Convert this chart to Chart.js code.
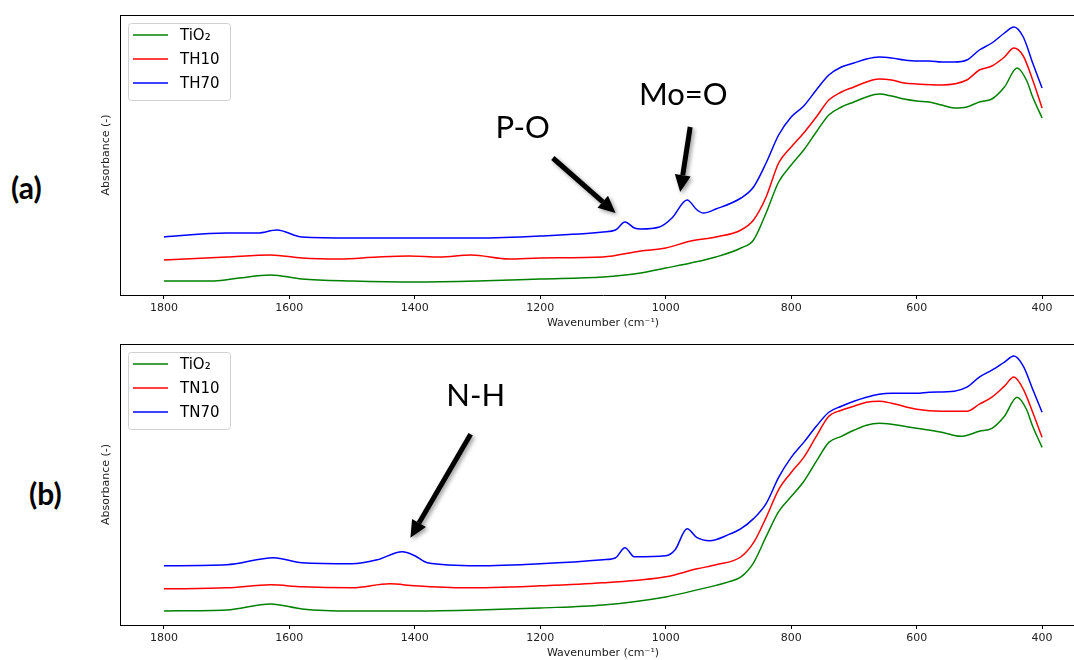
<!DOCTYPE html>
<html>
<head>
<meta charset="utf-8">
<script src="https://cdn.jsdelivr.net/npm/chart.js@4"></script>
<style>
  html, body { margin: 0; padding: 0; background: #fff; overflow: hidden; }
  body { width: 1074px; height: 660px; position: relative; }
  .panel { position: absolute; left: 0; }
  .tag { position: absolute; font-family: Lato, "Open Sans", sans-serif; font-weight: bold; font-size: 30px; color: #000; }
</style>
</head>
<body>
<div class="tag" style="left:11px; top:169px;">(a)</div>
<div class="tag" style="left:29px; top:475px;">(b)</div>
<canvas id="chartA" class="panel" width="1100" height="330" style="top:0"></canvas>
<canvas id="chartB" class="panel" width="1100" height="330" style="top:330px"></canvas>
<script>
// x ticks (wavenumber, cm-1)
const xTicks = [1800, 1600, 1400, 1200, 1000, 800, 600, 400];

// ---- panel (a) ----
const wnA_TiO2 = [1800,1720,1680,1630,1580,1500,1400,1300,1200,1100,1040,1000,960,920,880,860,840,820,800,780,760,740,720,700,680,660,640,620,600,580,560,540,520,500,480,460,440,425,415,400];
const absA_TiO2 = [0.14,0.14,0.17,0.20,0.16,0.14,0.13,0.14,0.16,0.18,0.22,0.27,0.32,0.38,0.47,0.55,0.82,1.13,1.30,1.45,1.63,1.80,1.88,1.93,1.98,2.01,1.99,1.96,1.94,1.93,1.90,1.87,1.88,1.93,1.96,2.08,2.27,2.15,1.98,1.77];

const wnA_TH10 = [1800,1700,1630,1580,1520,1460,1410,1360,1310,1250,1200,1100,1040,1000,960,920,880,860,840,820,800,780,760,740,720,700,680,660,640,620,600,560,520,500,480,460,445,430,415,400];
const absA_TH10 = [0.35,0.38,0.40,0.37,0.36,0.38,0.39,0.38,0.40,0.36,0.37,0.38,0.44,0.47,0.54,0.58,0.65,0.75,0.98,1.32,1.48,1.62,1.78,1.95,2.03,2.08,2.13,2.16,2.15,2.12,2.11,2.10,2.15,2.25,2.29,2.38,2.47,2.39,2.15,1.87];

const wnA_TH70 = [1800,1700,1650,1620,1580,1500,1400,1300,1200,1100,1080,1065,1050,1040,1010,990,966,950,940,920,880,860,840,820,800,780,760,740,720,700,680,660,640,620,600,580,560,540,520,500,480,460,445,430,415,400];
const absA_TH70 = [0.58,0.62,0.62,0.65,0.58,0.57,0.57,0.57,0.59,0.63,0.65,0.73,0.67,0.66,0.68,0.77,0.95,0.85,0.82,0.86,0.97,1.08,1.32,1.60,1.78,1.89,2.05,2.20,2.28,2.32,2.36,2.38,2.37,2.35,2.34,2.34,2.33,2.33,2.35,2.45,2.52,2.62,2.68,2.58,2.32,2.07];

// ---- panel (b) ----
const wnB_TiO2 = [1800,1700,1630,1580,1500,1400,1300,1200,1100,1000,950,900,880,860,840,820,800,780,760,740,720,700,680,660,640,600,560,530,500,480,460,440,425,415,400];
const absB_TiO2 = [0.14,0.15,0.21,0.16,0.14,0.14,0.15,0.17,0.20,0.28,0.35,0.43,0.48,0.62,0.88,1.13,1.28,1.43,1.63,1.82,1.88,1.94,1.99,2.01,2.00,1.96,1.92,1.88,1.93,1.96,2.08,2.27,2.15,1.98,1.77];

const wnB_TN10 = [1800,1700,1630,1580,1500,1440,1400,1320,1200,1100,1000,950,920,880,860,840,820,800,780,760,740,720,700,680,660,640,600,560,520,500,480,460,445,430,415,400];
const absB_TN10 = [0.36,0.37,0.40,0.38,0.37,0.41,0.39,0.37,0.39,0.42,0.48,0.56,0.60,0.68,0.82,1.07,1.35,1.52,1.67,1.88,2.08,2.14,2.18,2.22,2.23,2.21,2.15,2.13,2.13,2.20,2.27,2.38,2.47,2.35,2.12,1.87];

const wnB_TN70 = [1800,1700,1625,1580,1500,1460,1420,1400,1380,1300,1200,1100,1080,1065,1050,1000,985,966,950,930,900,880,860,840,820,800,780,760,740,720,700,680,660,640,600,580,540,520,500,480,460,445,430,415,400];
const absB_TN70 = [0.59,0.60,0.67,0.62,0.61,0.65,0.73,0.69,0.62,0.59,0.61,0.65,0.67,0.77,0.68,0.69,0.75,0.96,0.87,0.84,0.90,0.96,1.06,1.21,1.47,1.67,1.82,1.98,2.12,2.18,2.23,2.27,2.30,2.31,2.31,2.32,2.33,2.37,2.47,2.54,2.62,2.68,2.58,2.35,2.12];

// annotations: label, label pos (wn, abs), arrow tail, arrow tip
const notesA = [
  {text: 'P-O', tx: 1228, ty: 1.67, x1: 1180, y1: 1.37, x2: 1080, y2: 0.82},
  {text: 'Mo=O', tx: 972, ty: 2.00, x1: 961, y1: 1.68, x2: 977, y2: 1.03}
];
const notesB = [
  {text: 'N-H', tx: 1303, ty: 2.28, x1: 1311, y1: 1.90, x2: 1407, y2: 0.87}
];

const tickFont = {family: 'DejaVu Sans', size: 11};

const frame = {
  id: 'frame',
  afterDraw(chart) {
    const {ctx, chartArea: a} = chart;
    ctx.save();
    ctx.strokeStyle = '#000';
    ctx.lineWidth = 1;
    ctx.beginPath();
    ctx.moveTo(a.left, a.top + 0.5);
    ctx.lineTo(a.right, a.top + 0.5);
    ctx.lineTo(a.right, a.bottom);
    ctx.stroke();
    ctx.restore();
  }
};

const legendBox = {
  id: 'legendBox',
  afterDraw(chart) {
    const {ctx, chartArea: a} = chart;
    const x = a.left + 8, y = a.top + 8;
    ctx.save();
    ctx.fillStyle = 'rgba(255,255,255,0.8)';
    ctx.strokeStyle = '#d0d0d0';
    ctx.lineWidth = 1;
    ctx.beginPath();
    ctx.roundRect(x + 0.5, y + 0.5, 102, 77, 3);
    ctx.fill();
    ctx.stroke();
    ctx.font = '15px "DejaVu Sans"';
    ctx.textBaseline = 'middle';
    chart.data.datasets.forEach((ds, i) => {
      const ry = y + 12 + i * 24;
      ctx.strokeStyle = ds.borderColor;
      ctx.lineWidth = 1.5;
      ctx.beginPath();
      ctx.moveTo(x + 5, ry);
      ctx.lineTo(x + 40, ry);
      ctx.stroke();
      ctx.fillStyle = '#000';
      ctx.fillText(ds.label, x + 52, ry + 1);
    });
    ctx.restore();
  }
};

function arrow(ctx, x1, y1, x2, y2) {
  const ang = Math.atan2(y2 - y1, x2 - x1);
  const head = 17, half = 8;
  const bx = x2 - head * Math.cos(ang), by = y2 - head * Math.sin(ang);
  ctx.beginPath();
  ctx.moveTo(x1, y1);
  ctx.lineTo(bx, by);
  ctx.stroke();
  ctx.beginPath();
  ctx.moveTo(x2, y2);
  ctx.lineTo(bx + half * Math.sin(ang), by - half * Math.cos(ang));
  ctx.lineTo(bx - half * Math.sin(ang), by + half * Math.cos(ang));
  ctx.closePath();
  ctx.fill();
}

const notesPlugin = {
  id: 'notes',
  afterDraw(chart, args, opts) {
    const {ctx, scales: {x, y}} = chart;
    ctx.save();
    (opts.items || []).forEach(n => {
      ctx.fillStyle = '#000';
      ctx.strokeStyle = '#000';
      ctx.lineWidth = 5;
      ctx.shadowColor = 'rgba(0,0,0,0.4)';
      ctx.shadowBlur = 4;
      ctx.shadowOffsetX = 2;
      ctx.shadowOffsetY = 2;
      arrow(ctx, x.getPixelForValue(n.x1), y.getPixelForValue(n.y1), x.getPixelForValue(n.x2), y.getPixelForValue(n.y2));
      ctx.shadowColor = 'transparent';
      ctx.font = '31px Lato';
      ctx.textAlign = 'center';
      ctx.textBaseline = 'middle';
      ctx.fillText(n.text, x.getPixelForValue(n.tx), y.getPixelForValue(n.ty));
    });
    ctx.restore();
  }
};

function series(label, wn, abs, color) {
  return {
    label: label,
    data: wn.map((w, i) => ({x: w, y: abs[i]})),
    borderColor: color,
    borderWidth: 1.5,
    pointRadius: 0,
    fill: false,
    cubicInterpolationMode: 'monotone'
  };
}

function makeChart(id, datasets, notes, padTop) {
  return new Chart(document.getElementById(id), {
    type: 'line',
    data: {datasets: datasets},
    options: {
      responsive: false,
      animation: false,
      layout: {padding: {left: 96, right: 14, top: padTop, bottom: 0}},
      plugins: {legend: {display: false}, tooltip: {enabled: false}, notes: {items: notes}},
      scales: {
        x: {
          type: 'linear',
          reverse: true,
          min: 330,
          max: 1870,
          afterBuildTicks: s => { s.ticks = xTicks.map(v => ({value: v})); },
          afterFit: s => { s.height = 35; },
          grid: {display: true, drawOnChartArea: false, drawTicks: true, tickLength: 4, color: '#000'},
          border: {display: true, color: '#000', width: 1},
          ticks: {font: tickFont, color: '#222', padding: 3, maxRotation: 0, autoSkip: false, callback: v => String(v)},
          title: {display: true, text: 'Wavenumber (cm⁻¹)', font: tickFont, color: '#222', padding: {top: 0, bottom: 0}}
        },
        y: {
          min: 0,
          max: 2.8,
          afterFit: s => { s.width = 24; },
          grid: {display: false},
          border: {display: true, color: '#000', width: 1},
          ticks: {display: false},
          title: {display: true, text: 'Absorbance (-)', font: tickFont, color: '#222', padding: {top: 4, bottom: 4}}
        }
      }
    },
    plugins: [frame, legendBox, notesPlugin]
  });
}

makeChart('chartA', [
  series('TiO₂', wnA_TiO2, absA_TiO2, '#008000'),
  series('TH10', wnA_TH10, absA_TH10, '#ff0000'),
  series('TH70', wnA_TH70, absA_TH70, '#0000ff')
], notesA, 15);

makeChart('chartB', [
  series('TiO₂', wnB_TiO2, absB_TiO2, '#008000'),
  series('TN10', wnB_TN10, absB_TN10, '#ff0000'),
  series('TN70', wnB_TN70, absB_TN70, '#0000ff')
], notesB, 14);
</script>
</body>
</html>
